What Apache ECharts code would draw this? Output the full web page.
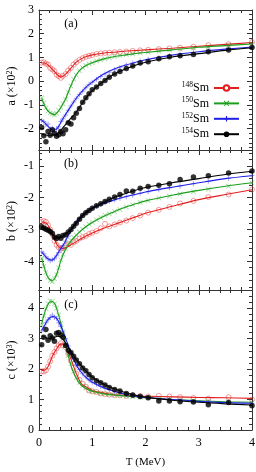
<!DOCTYPE html>
<html><head><meta charset="utf-8">
<script src="https://cdn.jsdelivr.net/npm/echarts@6/dist/echarts.min.js"></script>
<style>html,body{margin:0;padding:0;background:#fff}#c{width:256px;height:472px}</style>
</head><body><div id="c"></div>
<script>
// ---------- data ----------
const isotopes = ['148Sm', '150Sm', '152Sm', '154Sm'];
const xTicks = [0, 1, 2, 3, 4];
const aTicks = [-2, -1, 0, 1, 2, 3];
const bTicks = [-4, -3, -2, -1];
const cTicks = [0, 1, 2, 3, 4];

const lineT = [0.05,0.1,0.15,0.2,0.25,0.3,0.35,0.4,0.45,0.5,0.6,0.7,0.8,0.9,1.0,1.2,1.4,1.6,1.8,2.0,2.5,3.0,3.5,4.0];
const pointT = [0.05,0.09,0.13,0.17,0.21,0.25,0.29,0.33,0.37,0.41,0.45,0.50,0.55,0.60,0.65,0.70,0.76,0.82,0.88,0.94,1.00,1.08,1.16,1.24,1.32,1.42,1.52,1.64,1.76,1.90,2.05,2.25,2.45,2.65,2.90,3.18,3.56,4.00];

// panel (a)
const a148Line = [0.78,0.77,0.72,0.62,0.50,0.38,0.26,0.18,0.21,0.30,0.55,0.80,0.95,1.05,1.11,1.18,1.22,1.26,1.29,1.32,1.39,1.47,1.55,1.63];
const a150Line = [-0.72,-1.0,-1.2,-1.32,-1.38,-1.40,-1.30,-1.15,-0.95,-0.75,-0.18,0.27,0.54,0.68,0.78,0.93,1.03,1.10,1.16,1.21,1.32,1.43,1.50,1.57];
const a152Line = [-1.64,-1.74,-1.86,-1.97,-2.05,-2.06,-1.97,-1.78,-1.58,-1.40,-1.05,-0.72,-0.45,-0.22,-0.04,0.28,0.50,0.66,0.79,0.90,1.10,1.24,1.35,1.44];
const a154Line = [-2.22,-2.26,-2.28,-2.28,-2.27,-2.25,-2.20,-2.10,-1.96,-1.82,-1.56,-1.30,-0.96,-0.66,-0.40,-0.03,0.28,0.49,0.66,0.80,1.02,1.16,1.30,1.41];
const a148Pts = [0.78,0.80,0.74,0.70,0.56,0.50,0.42,0.27,0.22,0.14,0.22,0.30,0.45,0.56,0.70,0.80,0.90,0.97,1.03,1.07,1.10,1.15,1.17,1.19,1.20,1.22,1.23,1.25,1.28,1.30,1.32,1.35,1.38,1.41,1.45,1.52,1.56,1.65];
const a150Pts = [-0.70,-0.92,-1.12,-1.26,-1.34,-1.38,-1.42,-1.36,-1.24,-1.10,-0.95,-0.76,-0.48,-0.20,0.08,0.26,0.44,0.57,0.66,0.73,0.78,0.85,0.90,0.95,0.99,1.04,1.08,1.12,1.15,1.19,1.22,1.26,1.31,1.35,1.40,1.44,1.50,1.57];
const a152Pts = [-1.66,-1.70,-1.84,-1.80,-2.02,-1.98,-2.12,-2.00,-1.92,-1.70,-1.58,-1.42,-1.22,-1.05,-0.88,-0.72,-0.56,-0.42,-0.28,-0.14,-0.04,0.08,0.20,0.30,0.38,0.48,0.57,0.68,0.77,0.85,0.92,0.99,1.07,1.13,1.21,1.28,1.36,1.44];
const a154Pts = [-1.95,-2.30,-2.55,-2.12,-2.28,-2.05,-2.20,-2.32,-2.26,-2.12,-2.22,-2.05,-1.75,-1.80,-1.54,-1.35,-1.15,-0.89,-0.70,-0.53,-0.36,-0.24,-0.10,0.03,0.17,0.30,0.41,0.53,0.64,0.77,0.82,0.95,1.03,1.07,1.12,1.24,1.31,1.42];

// panel (b)
const b148Line = [-2.76,-2.77,-2.82,-2.95,-3.14,-3.35,-3.50,-3.58,-3.60,-3.57,-3.48,-3.38,-3.28,-3.19,-3.11,-2.97,-2.85,-2.73,-2.61,-2.49,-2.27,-2.06,-1.90,-1.75];
const b150Line = [-3.90,-4.20,-4.44,-4.57,-4.60,-4.52,-4.32,-4.03,-3.80,-3.62,-3.36,-3.18,-3.02,-2.89,-2.78,-2.60,-2.45,-2.31,-2.20,-2.10,-1.92,-1.77,-1.64,-1.53];
const b152Line = [-3.70,-3.80,-3.90,-3.95,-3.96,-3.88,-3.76,-3.62,-3.50,-3.35,-3.02,-2.76,-2.57,-2.43,-2.33,-2.19,-2.08,-1.98,-1.90,-1.82,-1.67,-1.53,-1.40,-1.31];
const b154Line = [-2.92,-2.96,-3.00,-3.06,-3.14,-3.22,-3.25,-3.25,-3.20,-3.14,-3.00,-2.80,-2.60,-2.45,-2.33,-2.15,-2.00,-1.88,-1.77,-1.68,-1.53,-1.40,-1.27,-1.17];
const b148Pts = [-2.76,-2.73,-2.76,-2.86,-3.00,-3.15,-3.35,-3.48,-3.56,-3.60,-3.58,-3.52,-3.46,-3.48,-3.40,-3.36,-3.28,-3.24,-3.20,-3.14,-3.10,-3.05,-2.96,-2.82,-2.90,-2.84,-2.78,-2.72,-2.64,-2.56,-2.47,-2.38,-2.29,-2.18,-2.10,-1.98,-1.90,-1.74];
const b150Pts = [-3.90,-4.15,-4.35,-4.50,-4.60,-4.64,-4.55,-4.42,-4.20,-3.95,-3.78,-3.60,-3.45,-3.34,-3.25,-3.16,-3.08,-2.99,-2.91,-2.83,-2.78,-2.69,-2.62,-2.55,-2.50,-2.43,-2.37,-2.29,-2.22,-2.15,-2.09,-2.01,-1.95,-1.88,-1.81,-1.73,-1.64,-1.53];
const b152Pts = [-3.70,-3.76,-3.86,-3.92,-3.98,-3.95,-3.92,-3.82,-3.72,-3.60,-3.50,-3.36,-3.20,-3.04,-2.90,-2.78,-2.66,-2.56,-2.46,-2.39,-2.33,-2.26,-2.21,-2.16,-2.11,-2.06,-2.02,-1.97,-1.92,-1.86,-1.81,-1.75,-1.69,-1.63,-1.56,-1.48,-1.39,-1.30];
const b154Pts = [-2.91,-2.95,-2.99,-3.02,-3.06,-3.12,-3.24,-3.28,-3.22,-3.27,-3.19,-3.16,-3.08,-3.00,-2.90,-2.80,-2.68,-2.56,-2.47,-2.40,-2.33,-2.25,-2.19,-2.12,-2.05,-1.98,-1.90,-1.79,-1.80,-1.70,-1.65,-1.61,-1.56,-1.43,-1.35,-1.31,-1.22,-1.16];

// panel (c)
const c148Line = [1.95,1.96,2.02,2.20,2.42,2.58,2.72,2.82,2.82,2.75,2.33,1.86,1.51,1.40,1.30,1.22,1.16,1.14,1.12,1.11,1.09,1.07,1.06,1.04];
const c150Line = [3.48,3.82,4.06,4.20,4.22,4.14,3.88,3.58,3.22,2.80,2.12,1.70,1.46,1.35,1.27,1.19,1.15,1.12,1.09,1.06,1.00,0.96,0.93,0.91];
const c152Line = [3.27,3.42,3.58,3.68,3.73,3.72,3.62,3.46,3.24,3.02,2.52,2.14,1.88,1.70,1.57,1.40,1.28,1.18,1.12,1.07,1.00,0.94,0.90,0.88];
const c154Line = [3.10,3.06,3.02,3.00,3.02,3.05,3.08,3.06,2.98,2.86,2.58,2.32,2.10,1.90,1.74,1.52,1.36,1.24,1.15,1.08,0.98,0.91,0.86,0.82];
const c148Pts = [1.93,1.92,1.96,2.08,2.26,2.44,2.56,2.68,2.78,2.85,2.78,2.72,2.50,2.28,2.05,1.85,1.65,1.52,1.42,1.30,1.27,1.25,1.20,1.18,1.16,1.15,1.14,1.12,1.14,1.12,1.10,1.12,1.10,1.08,1.05,1.03,1.08,1.00];
const c150Pts = [3.45,3.75,3.98,4.15,4.24,4.22,4.15,4.00,3.78,3.50,3.22,2.82,2.45,2.18,1.92,1.72,1.56,1.45,1.38,1.31,1.27,1.23,1.20,1.18,1.16,1.14,1.13,1.11,1.09,1.08,1.05,1.03,1.00,0.98,0.96,0.95,0.93,0.90];
const c152Pts = [3.25,3.38,3.52,3.62,3.70,3.78,3.70,3.66,3.52,3.40,3.22,3.00,2.76,2.52,2.32,2.14,1.98,1.85,1.74,1.64,1.57,1.50,1.43,1.37,1.32,1.26,1.22,1.17,1.13,1.09,1.06,1.02,1.00,0.97,0.94,0.92,0.90,0.88];
const c154Pts = [2.80,3.05,3.30,2.95,3.10,3.02,2.92,3.18,3.20,3.12,3.05,2.78,2.62,2.55,2.42,2.30,2.18,2.04,1.95,1.82,1.72,1.62,1.55,1.48,1.40,1.33,1.28,1.20,1.15,1.10,1.06,0.95,0.95,0.93,0.92,0.83,0.90,0.80];

// ---------- presentation ----------
const SERIF = '"Liberation Serif", "DejaVu Serif", serif';
const AX = '#333';
const lineColors = ['#e31e1e', '#1c9e1c', '#1e1ee6', '#000000'];
const markColors = ['rgba(230,50,50,0.6)', 'rgba(40,170,40,0.65)', 'rgba(60,60,240,0.6)', '#000000'];
const crossPath = 'path://M0,1L1,0L5,4L9,0L10,1L6,5L10,9L9,10L5,6L1,10L0,9L4,5Z';
const plusPath = 'path://M4,0H6V4H10V6H6V10H4V6H0V4H4Z';
const markSymbols = ['circle', crossPath, plusPath, 'circle'];
const legendSymbols = ['emptyCircle', crossPath, plusPath, 'circle'];

const panels = [
  {top: 10, min: -2.9, max: 3, ticks: aTicks, lines: [a148Line, a150Line, a152Line, a154Line], pts: [a148Pts, a150Pts, a152Pts, a154Pts], tag: '(a)', tagY: 24, title: 'a', exp: '2', titleY: 86},
  {top: 150, min: -4.9, max: -0.5, ticks: bTicks, lines: [b148Line, b150Line, b152Line, b154Line], pts: [b148Pts, b150Pts, b152Pts, b154Pts], tag: '(b)', tagY: 164, title: 'b', exp: '2', titleY: 221},
  {top: 290, min: 0, max: 4.6, ticks: cTicks, lines: [c148Line, c150Line, c152Line, c154Line], pts: [c148Pts, c150Pts, c152Pts, c154Pts], tag: '(c)', tagY: 305, title: 'c', exp: '3', titleY: 360}
];

function minorsOf(min, max) {
  const out = [];
  for (let k = Math.ceil(min * 5 - 1e-9); k <= Math.floor(max * 5 + 1e-9); k++) {
    if (k % 5 !== 0) out.push(k / 5);
  }
  return out;
}

const grids = [], xAxes = [], yAxes = [], series = [], graphics = [];
const lineStyle = {color: AX, width: 1};
const labelStyle = {fontFamily: SERIF, fontSize: 12, color: '#000'};

panels.forEach((p, pi) => {
  grids.push({left: 39, width: 213, top: p.top, height: 140, outerBoundsMode: 'none', containLabel: false});
  ['bottom', 'top'].forEach(pos => {
    xAxes.push({
      gridIndex: pi, type: 'value', position: pos, min: 0, max: 4, interval: 1,
      axisLine: {show: true, onZero: false, lineStyle},
      axisTick: {show: true, inside: true, length: 5, lineStyle},
      minorTick: {show: true, splitNumber: 5, length: 3, lineStyle},
      splitLine: {show: false}, minorSplitLine: {show: false},
      axisLabel: Object.assign({show: pi === 2 && pos === 'bottom', margin: 7, customValues: xTicks}, labelStyle),
      name: (pi === 2 && pos === 'bottom') ? 'T (MeV)' : '',
      nameLocation: 'middle', nameGap: 27,
      nameTextStyle: {fontFamily: SERIF, fontSize: 11, color: '#000'}
    });
  });
  const minors = minorsOf(p.min, p.max);
  ['left', 'right'].forEach(pos => {
    yAxes.push({
      gridIndex: pi, type: 'value', position: pos, min: p.min, max: p.max,
      axisLine: {show: true, onZero: false, lineStyle},
      axisTick: {show: true, inside: true, length: 5, customValues: p.ticks, lineStyle},
      splitLine: {show: false},
      axisLabel: Object.assign({show: pos === 'left', margin: 5, customValues: p.ticks}, labelStyle)
    });
    yAxes.push({
      gridIndex: pi, type: 'value', position: pos, min: p.min, max: p.max,
      axisLine: {show: false, onZero: false},
      axisTick: {show: true, inside: true, length: 3, customValues: minors, lineStyle},
      splitLine: {show: false},
      axisLabel: {show: false}
    });
  });
  const yIdx = pi * 4;
  for (let i = 0; i < 4; i++) {
    const sc = {
      type: 'scatter', xAxisIndex: pi * 2, yAxisIndex: yIdx,
      data: pointT.map((t, j) => [t, p.pts[i][j]]),
      symbol: markSymbols[i], symbolSize: i === 3 ? 5.5 : 5,
      itemStyle: i === 0 ? {color: 'rgba(0,0,0,0)', borderColor: markColors[0], borderWidth: 1} : {color: markColors[i]},
      z: 2 + i, silent: true, animation: false
    };
    const ln = {
      type: 'line', xAxisIndex: pi * 2, yAxisIndex: yIdx,
      data: lineT.map((t, j) => [t, p.lines[i][j]]),
      showSymbol: false, symbol: legendSymbols[i], smooth: 0.3,
      lineStyle: {color: lineColors[i], width: 1.1},
      itemStyle: {color: lineColors[i]},
      z: 3 + i, silent: true, animation: false
    };
    if (pi === 0) ln.name = isotopes[i];
    series.push(sc, ln);
  }
  graphics.push({type: 'text', x: 71, y: p.tagY, style: {text: p.tag, font: '12px ' + SERIF, fill: '#000', align: 'center', verticalAlign: 'middle', textAlign: 'center', textVerticalAlign: 'middle'}});
  graphics.push({type: 'text', x: 12, y: p.titleY, rotation: Math.PI / 2,
    style: {text: '{n|' + p.title + ' (×10}{s|' + p.exp + '}{n|)}', fill: '#000', align: 'center', verticalAlign: 'middle', textAlign: 'center', textVerticalAlign: 'middle',
      rich: {n: {fontSize: 12, fontFamily: SERIF, fill: '#000', color: '#000'}, s: {fontSize: 8, fontFamily: SERIF, verticalAlign: 'top', fill: '#000', color: '#000'}}}});
});

const chart = echarts.init(document.getElementById('c'), null, {renderer: 'canvas'});
chart.setOption({
  animation: false,
  backgroundColor: '#fff',
  grid: grids, xAxis: xAxes, yAxis: yAxes, series,
  legend: {
    data: isotopes, orient: 'vertical', align: 'right', right: 16, top: 81,
    itemWidth: 25, itemHeight: 7, itemGap: 2.4, padding: 0, selectedMode: false,
    formatter: name => '{sup|' + name.slice(0, 3) + '}{el|' + name.slice(3) + '}',
    textStyle: {color: '#000', fontFamily: SERIF, fontSize: 11,
      rich: {sup: {fontSize: 7.5, fontFamily: SERIF, verticalAlign: 'top', color: '#000'}, el: {fontSize: 12, fontFamily: SERIF, lineHeight: 14, color: '#000'}}}
  },
  graphic: graphics
});
</script>
</body></html>
